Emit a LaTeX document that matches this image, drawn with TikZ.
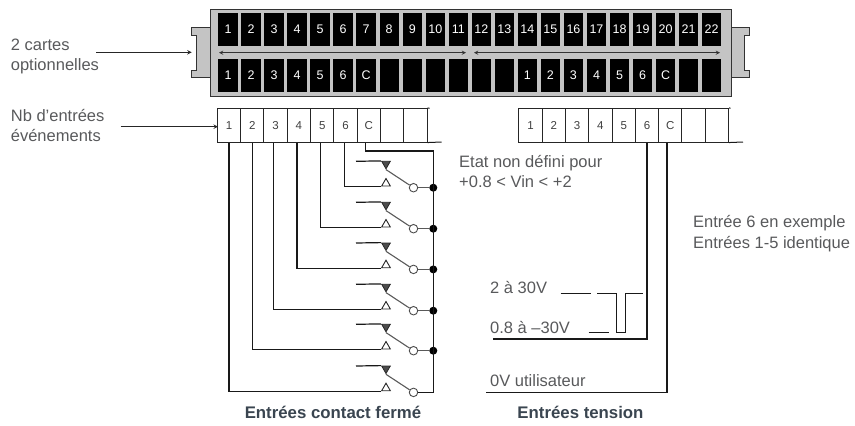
\documentclass[tikz,border=0pt]{standalone}
\usepackage{fontspec}
\setmainfont{Liberation Sans}
\usetikzlibrary{positioning, arrows, shapes.geometric}
\definecolor{txtgray}{HTML}{58595B}
\definecolor{txtslate}{HTML}{3A4550}
\definecolor{bodygray}{HTML}{C4C4C4}
\tikzset{
	x=1pt, y=-1pt, % one unit is one pixel of the reference
	>=stealth, % makes the arrow heads bold
	wire/.style={line width=1.2pt, black!90},
	lever/.style={line width=1.1pt, black!65},
	slot/.style={fill=black, text=white, inner sep=0pt, minimum width=19.4pt, minimum height=33pt, font=\fontsize{12.5}{14}\selectfont},
	cell/.style={draw=black!85, line width=1pt, fill=white, text=black!75, inner sep=0pt, minimum width=23.3pt, minimum height=33.7pt, font=\fontsize{11.5}{13}\selectfont},
	note/.style={text=txtgray, inner sep=0pt, align=left, font=\fontsize{16.5}{20.5}\selectfont},
	title/.style={text=txtslate, inner sep=0pt, font=\fontsize{16.8}{19}\selectfont\bfseries},
	closed/.style={regular polygon, regular polygon sides=3, shape border rotate=180, fill=black!70, draw=black!85, line width=0.8pt, inner sep=0pt, minimum size=10pt},
	opened/.style={regular polygon, regular polygon sides=3, fill=white, draw=black!85, line width=0.9pt, inner sep=0pt, minimum size=10pt},
	ring/.style={circle, draw=black!70, fill=white, line width=0.9pt, inner sep=0pt, minimum size=8.5pt},
	joint/.style={circle, fill=black, inner sep=0pt, minimum size=8pt},
}
\begin{document}
\begin{tikzpicture}
	\useasboundingbox (0,0) rectangle (855,426);
	% connector body and its two lugs
	\draw[fill=bodygray, line width=1pt, draw=black!80] (210,27.3) -- (191.7,27.3) -- (191.7,35) -- (196,35) -- (196,70.7) -- (191.7,70.7) -- (191.7,77.7) -- (210,77.7);
	\draw[fill=bodygray, line width=1pt, draw=black!80] (731,27.3) -- (749,27.3) -- (749,35) -- (744.5,35) -- (744.5,70.7) -- (749,70.7) -- (749,77.7) -- (731,77.7);
	\node[fill=bodygray, draw=black!80, line width=1pt, inner sep=0pt, minimum width=521pt, minimum height=87pt] (body) at (470.5,52.5) {};
	% slots
	\foreach \i in {1,...,22}
		\node[slot] (top\i) at (228+23.03*\i-23.03,29.5) {\i};
	\foreach \i/\t in {1/1,2/2,3/3,4/4,5/5,6/6,7/C,8/,9/,10/,11/,12/,13/,14/1,15/2,16/3,17/4,18/5,19/6,20/C,21/,22/}
		\node[slot] (bot\i) at (228+23.03*\i-23.03,75.5) {\t};
	\coordinate (cardAl) at (219,52.7);
	\coordinate (cardAr) at (466,52.7);
	\coordinate (cardBl) at (474,52.7);
	\coordinate (cardBr) at (720,52.7);
	\draw[<->, line width=0.9pt, black!80] (cardAl) -- (cardAr);
	\draw[<->, line width=0.9pt, black!80] (cardBl) -- (cardBr);
	% terminal strips
	\foreach \i/\t in {1/1,2/2,3/3,4/4,5/5,6/6,7/C,8/,9/}
		\node[cell] (ca\i) at (229+23.3*\i-23.3,125.2) {\t};
	\foreach \i/\t in {1/1,2/2,3/3,4/4,5/5,6/6,7/C,8/,9/}
		\node[cell] (cb\i) at (530.5+23.3*\i-23.3,125.2) {\t};
	\coordinate (caTop) at (429.5,108.3);
	\coordinate (caEnd) at (441.7,142);
	\coordinate (cbTop) at (730.5,108.3);
	\coordinate (cbEnd) at (743,142);
	\draw[wire, line width=1pt] (ca9.north east) -- (caTop);
	\draw[wire, line width=1pt] (ca9.south east) -- (caEnd);
	\draw[wire, line width=1pt] (cb9.north east) -- (cbTop);
	\draw[wire, line width=1pt] (cb9.south east) -- (cbEnd);
	% contacts, from top to bottom
	\foreach \r/\y in {1/186,2/227,3/267.7,4/309,5/349,6/390.7} {
		\node[opened] (low\r) at (386,\y-2.5) {};
		\node[closed] (high\r) at (386,\y-22.2) {};
		\node[ring] (ring\r) at (413.5,\y+1.7) {};
		\coordinate (stub\r) at (356,\y-24.7);
		\draw[wire] (stub\r) -- (high\r.corner 3);
		\draw[lever] (high\r.corner 1) -- (ring\r);
	}
	\foreach \r in {1,...,5} {
		\node[joint] (dot\r) at (433.3,0 |- ring\r) {};
		\draw[lever] (ring\r) -- (dot\r);
	}
	\coordinate (busTop) at (433.3,151);
	\draw[wire] ([xshift=-3pt]ca7.south) |- (busTop) |- (ring6.east);
	\draw[wire] (ca1.south) |- (low6.corner 2);
	\draw[wire] (ca2.south) |- (low5.corner 2);
	\draw[wire] ([xshift=-2pt]ca3.south) |- (low4.corner 2);
	\draw[wire] ([xshift=-2pt]ca4.south) |- (low3.corner 2);
	\draw[wire] ([xshift=-1.5pt]ca5.south) |- (low2.corner 2);
	\draw[wire] ([xshift=-1pt]ca6.south) |- (low1.corner 2);
	% voltage side
	\node[note, anchor=base west] (high) at (490,293.3) {2 à 30V};
	\node[note, anchor=base west] (low) at (490,333.3) {0.8 à –30V};
	\node[note, anchor=base west] (zero) at (490,386.7) {0V utilisateur};
	\coordinate (sigA) at (493.3,339);
	\coordinate (zeroA) at (485.7,392.7);
	\draw[wire] (cb6.south) |- (sigA);
	\draw[wire] ([xshift=-3.3pt]cb7.south) |- (zeroA);
	\coordinate (dashA) at (560.7,293.3);
	\coordinate (dashB) at (590.7,293.3);
	\coordinate (dashC) at (588.7,332.5);
	\coordinate (dashD) at (609,332.5);
	\draw[wire] (dashA) -- (dashB);
	\draw[wire] (dashC) -- (dashD);
	\draw[wire] (597.3,293.3) -- (616.7,293.3) -- (616.7,332.7) -- (625.7,332.7) -- (625.7,293.3) -- (642.7,293.3);
	% labels
	\node[note, anchor=base west] (cards) at (10.7,70.7) {2 cartes\\optionnelles};
	\node[note, anchor=base west] (inputs) at (10.7,141.7) {Nb d’entrées\\événements};
	\coordinate (cardsEnd) at (191.7,52.3);
	\coordinate (inputsEnd) at (218,126.7);
	\coordinate (cardsStart) at (96,52.3);
	\coordinate (inputsStart) at (120.7,126.7);
	\draw[->, line width=1pt, black!85] (cardsStart) -- (cardsEnd);
	\draw[->, line width=1pt, black!85] (inputsStart) -- (inputsEnd);
	\node[note, anchor=base west] (undef) at (459,187.7) {Etat non défini pour\\+0.8 < Vin < +2};
	\node[note, anchor=base west] (sample) at (693,248) {Entrée 6 en exemple\\Entrées 1-5 identique};
	\node[title, anchor=base] (closedT) at (333,418.3) {Entrées contact fermé};
	\node[title, anchor=base] (voltT) at (580.5,418.3) {Entrées tension};
\end{tikzpicture}
\end{document}
